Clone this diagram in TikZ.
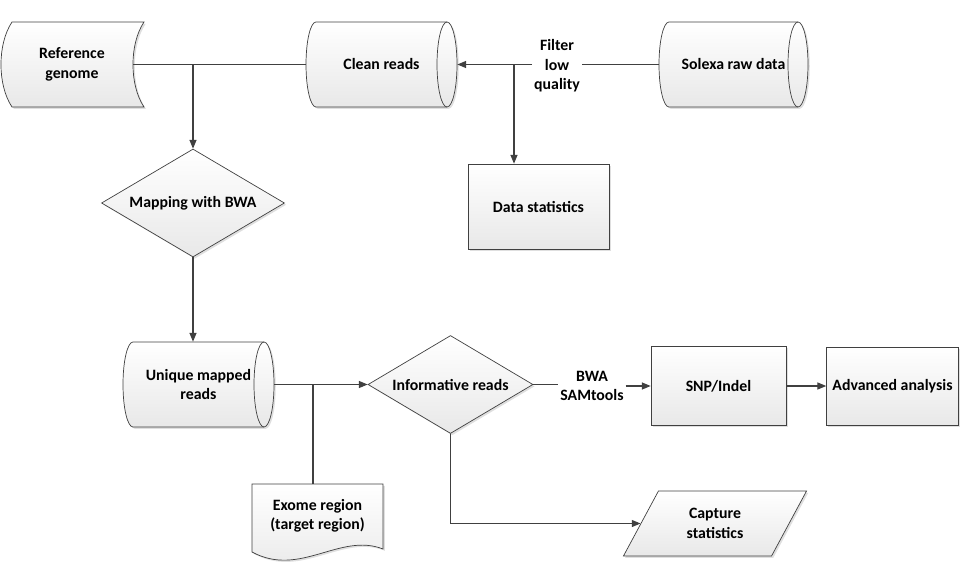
\documentclass[tikz,border=0pt]{standalone}
\usepackage{fontspec}
\setmainfont{Carlito}
\usepackage{tikz}
\usetikzlibrary{shapes.geometric,arrows.meta,shadows}

\begin{document}
\begin{tikzpicture}[x=0.02cm, y=-0.02cm,
        font=\fontsize{9}{11}\selectfont\bfseries,
        grad/.style={draw=black!75, top color=white, bottom color=black!9,
            drop shadow={opacity=0.25, shadow xshift=1pt, shadow yshift=-1pt}},
        endcap/.style={x radius=10, y radius=42.5},
        txt/.style={minimum width=3.02cm, minimum height=1.7cm, align=center},
        decision/.style={grad, diamond, shape aspect=1.7, inner sep=0pt, align=center},
        process/.style={grad, rectangle, align=center},
        line/.style={draw=black!75, line width=0.6pt},
        arr/.style={line, -{Triangle[length=5pt,width=4pt]}}]
        \useasboundingbox (0,0) rectangle (961,565);

        % Reference genome (stored data)
        \draw[grad] (12,22) -- (144,22) .. controls (129.3,44) and (129.3,85) .. (144,107)
            -- (12,107) .. controls (-2.7,85) and (-2.7,44) .. (12,22) -- cycle;
        \node[minimum width=2.44cm, minimum height=1.7cm, align=center] (ref) at (72,64.5) {Reference\\genome};

        % Clean reads
        \draw[grad] (316,22) -- (447,22) arc[start angle=-90, end angle=90, endcap] -- (316,107)
            arc[start angle=90, end angle=270, endcap] -- cycle;
        \draw[draw=black!75] (447,22) arc[start angle=270, end angle=90, endcap];
        \node[txt] (clean) at (381.5,64.5) {Clean reads};

        % Solexa raw data
        \draw[grad] (669,22) -- (798,22) arc[start angle=-90, end angle=90, endcap] -- (669,107)
            arc[start angle=90, end angle=270, endcap] -- cycle;
        \draw[draw=black!75] (798,22) arc[start angle=270, end angle=90, endcap];
        \node[txt, minimum width=2.98cm] (sol) at (733.5,64.5) {Solexa raw data};

        % Unique mapped reads
        \draw[grad] (133,342) -- (264,342) arc[start angle=-90, end angle=90, endcap] -- (133,427)
            arc[start angle=90, end angle=270, endcap] -- cycle;
        \draw[draw=black!75] (264,342) arc[start angle=270, end angle=90, endcap];
        \node[txt] (um) at (198.5,384.5) {Unique mapped\\reads};

        % Kararlar
        \node[decision, minimum width=3.66cm, minimum height=2.16cm] (map) at (193,203) {Mapping with BWA};
        \node[decision, minimum width=3.3cm, minimum height=1.96cm] (inf) at (450.5,384.5) {Informative reads};

        % Kutular
        \node[process, minimum width=2.82cm, minimum height=1.7cm] (ds) at (538.5,206.5) {Data statistics};
        \node[process, minimum width=2.7cm, minimum height=1.58cm] (snp) at (718.5,386) {SNP/Indel};
        \node[process, minimum width=2.62cm, minimum height=1.56cm] (adv) at (892.5,386) {Advanced analysis};
        \node[grad, trapezium, trapezium left angle=63, trapezium right angle=117, trapezium stretches=true,
            minimum width=3.68cm, minimum height=1.3cm, align=center] (capst) at (715,523.5) {Capture\\statistics};

        % Exome region (document)
        \draw[grad] (252,484) -- (383,484) -- (383,549) .. controls (340,532) and (300,578) .. (252,552) -- cycle;
        \node[minimum width=2.62cm, minimum height=1.28cm, align=center] (ex) at (317.5,516) {Exome region\\(target region)};

        % Etiketler
        \node[align=center, inner sep=1pt] (filt) at (557,66) {Filter\\low\\quality};
        \node[align=center, inner sep=1pt] (bwa) at (592,386) {BWA\\SAMtools};

        % Baglantilar
        \coordinate (j1) at (193,64.5);
        \coordinate (j2) at (514,64.5);
        \coordinate (j3) at (313,384.5);
        \draw[line] (ref.east) -- (clean.west);
        \draw[arr] (j1) -- (map.north);
        \draw[line] (sol.west) -- (sol.west -| filt.east);
        \draw[arr] (clean.east -| filt.west) -- (clean.east);
        \draw[arr] (j2) -- (j2 |- ds.north);
        \draw[arr] (map.south) -- (map.south |- um.north);
        \draw[arr] (um.east) -- (inf.west);
        \draw[line] (j3) -- (j3 |- ex.north);
        \draw[line] (inf.east) -- (inf.east -| bwa.west);
        \draw[arr] (snp.west -| bwa.east) -- (snp.west);
        \draw[arr] (snp.east) -- (adv.west);
        \draw[arr] (inf.south) |- (capst.west);

    \end{tikzpicture}
\end{document}
